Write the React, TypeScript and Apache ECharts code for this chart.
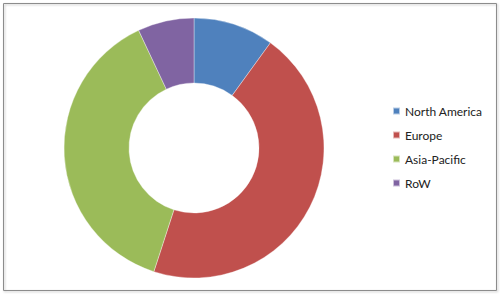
import React, { useEffect, useRef } from "react";
import * as echarts from "echarts";

const categories = ["North America", "Europe", "Asia-Pacific", "RoW"];
const values = [10, 45, 38, 7];
const colors = ["#4F81BD", "#C0504D", "#9BBB59", "#8064A2"];

export default function App() {
  const ref = useRef<HTMLDivElement>(null);
  useEffect(() => {
    document.body.style.margin = "0";
    const chart = echarts.init(ref.current!, null, { renderer: "svg" });
    chart.setOption({
      animation: false,
      backgroundColor: "#ffffff",
      color: colors,
      graphic: [
        {
          type: "rect",
          shape: { x: 3.5, y: 3.5, width: 493, height: 287 },
          style: { fill: "none", stroke: "#8c8c8c", lineWidth: 1, shadowColor: "rgba(0,0,0,0.25)", shadowBlur: 2, shadowOffsetX: 1, shadowOffsetY: 1 },
          silent: true,
        },
      ],
      legend: {
        orient: "vertical",
        left: 387,
        top: 100,
        itemWidth: 7,
        itemHeight: 7,
        itemGap: 12,
        icon: "rect",
        selectedMode: false,
        textStyle: { fontFamily: "Lato", fontSize: 12, color: "#222", lineHeight: 12 },
        data: categories,
      },
      series: [
        {
          type: "pie",
          center: [194, 148],
          radius: [65, 130],
          startAngle: 90,
          clockwise: true,
          label: { show: false },
          labelLine: { show: false },
          silent: true,
          itemStyle: { borderColor: "rgba(255,255,255,0.6)", borderWidth: 0.6 },
          data: categories.map((name, i) => ({ name, value: values[i] })),
        },
      ],
    });
    return () => chart.dispose();
  }, []);
  return <div ref={ref} style={{ width: 500, height: 296 }} />;
}
